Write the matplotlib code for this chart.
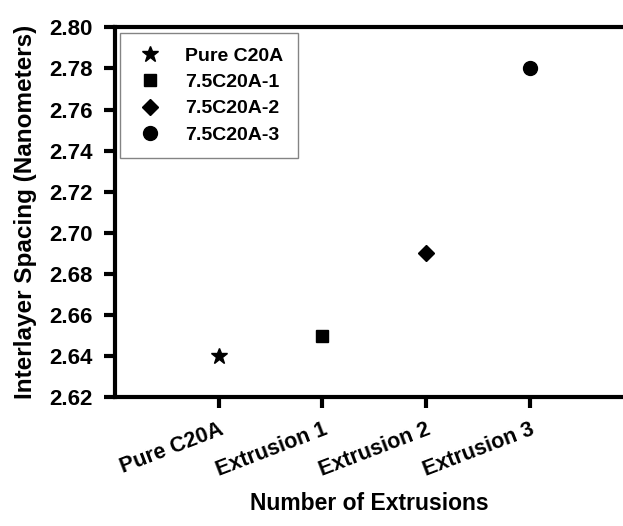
import matplotlib
matplotlib.use("Agg")
import matplotlib.pyplot as plt

categories = ["Pure C20A", "Extrusion 1", "Extrusion 2", "Extrusion 3"]
series_labels = ["Pure C20A", "7.5C20A-1", "7.5C20A-2", "7.5C20A-3"]
values = [2.64, 2.65, 2.69, 2.78]
markers = ["*", "s", "D", "o"]
msizes = [12, 9, 8, 10]
yticks = [2.62, 2.64, 2.66, 2.68, 2.70, 2.72, 2.74, 2.76, 2.78, 2.80]

plt.rcParams['font.family'] = ['Liberation Sans', 'DejaVu Sans']
plt.rcParams['font.weight'] = 'bold'

fig = plt.figure(figsize=(6.23, 5.26), dpi=100)
ax = fig.add_axes([0.1846, 0.245, 0.8154, 0.703])

for i, (lab, v, m, ms) in enumerate(zip(series_labels, values, markers, msizes)):
    ax.plot([i], [v], linestyle='none', marker=m, color='black', markersize=ms, label=lab)

ax.set_ylim(2.62, 2.80)
ax.set_xlim(-1.0, 3.9)
ax.set_yticks(yticks)
ax.set_yticklabels([f"{t:.2f}" for t in yticks], fontsize=16, fontweight='bold')
ax.set_xticks(range(len(categories)))
ax.set_xticklabels(categories, rotation=21, ha='right', rotation_mode='anchor',
                   fontsize=15.5, fontweight='bold')

for s in ['left', 'bottom', 'top']:
    ax.spines[s].set_linewidth(3)
ax.spines['right'].set_visible(False)
ax.tick_params(axis='both', direction='out', width=3, length=8)
ax.tick_params(axis='y', pad=8)
ax.tick_params(axis='x', pad=8)

ax.set_ylabel("Interlayer Spacing (Nanometers)", fontsize=17.5, fontweight='bold', labelpad=9)
ax.set_xlabel("Number of Extrusions", fontsize=16.5, fontweight='bold', labelpad=8)

leg = ax.legend(loc='upper left', bbox_to_anchor=(0.01, 0.986), frameon=True, fancybox=False,
                edgecolor='#666666', fontsize=14, handletextpad=1.0, borderpad=0.75,
                labelspacing=0.45, handlelength=1.6, borderaxespad=0.0)
leg.get_frame().set_linewidth(1.0)
for t in leg.get_texts():
    t.set_fontweight('bold')

fig.savefig("out.png", dpi=100)
